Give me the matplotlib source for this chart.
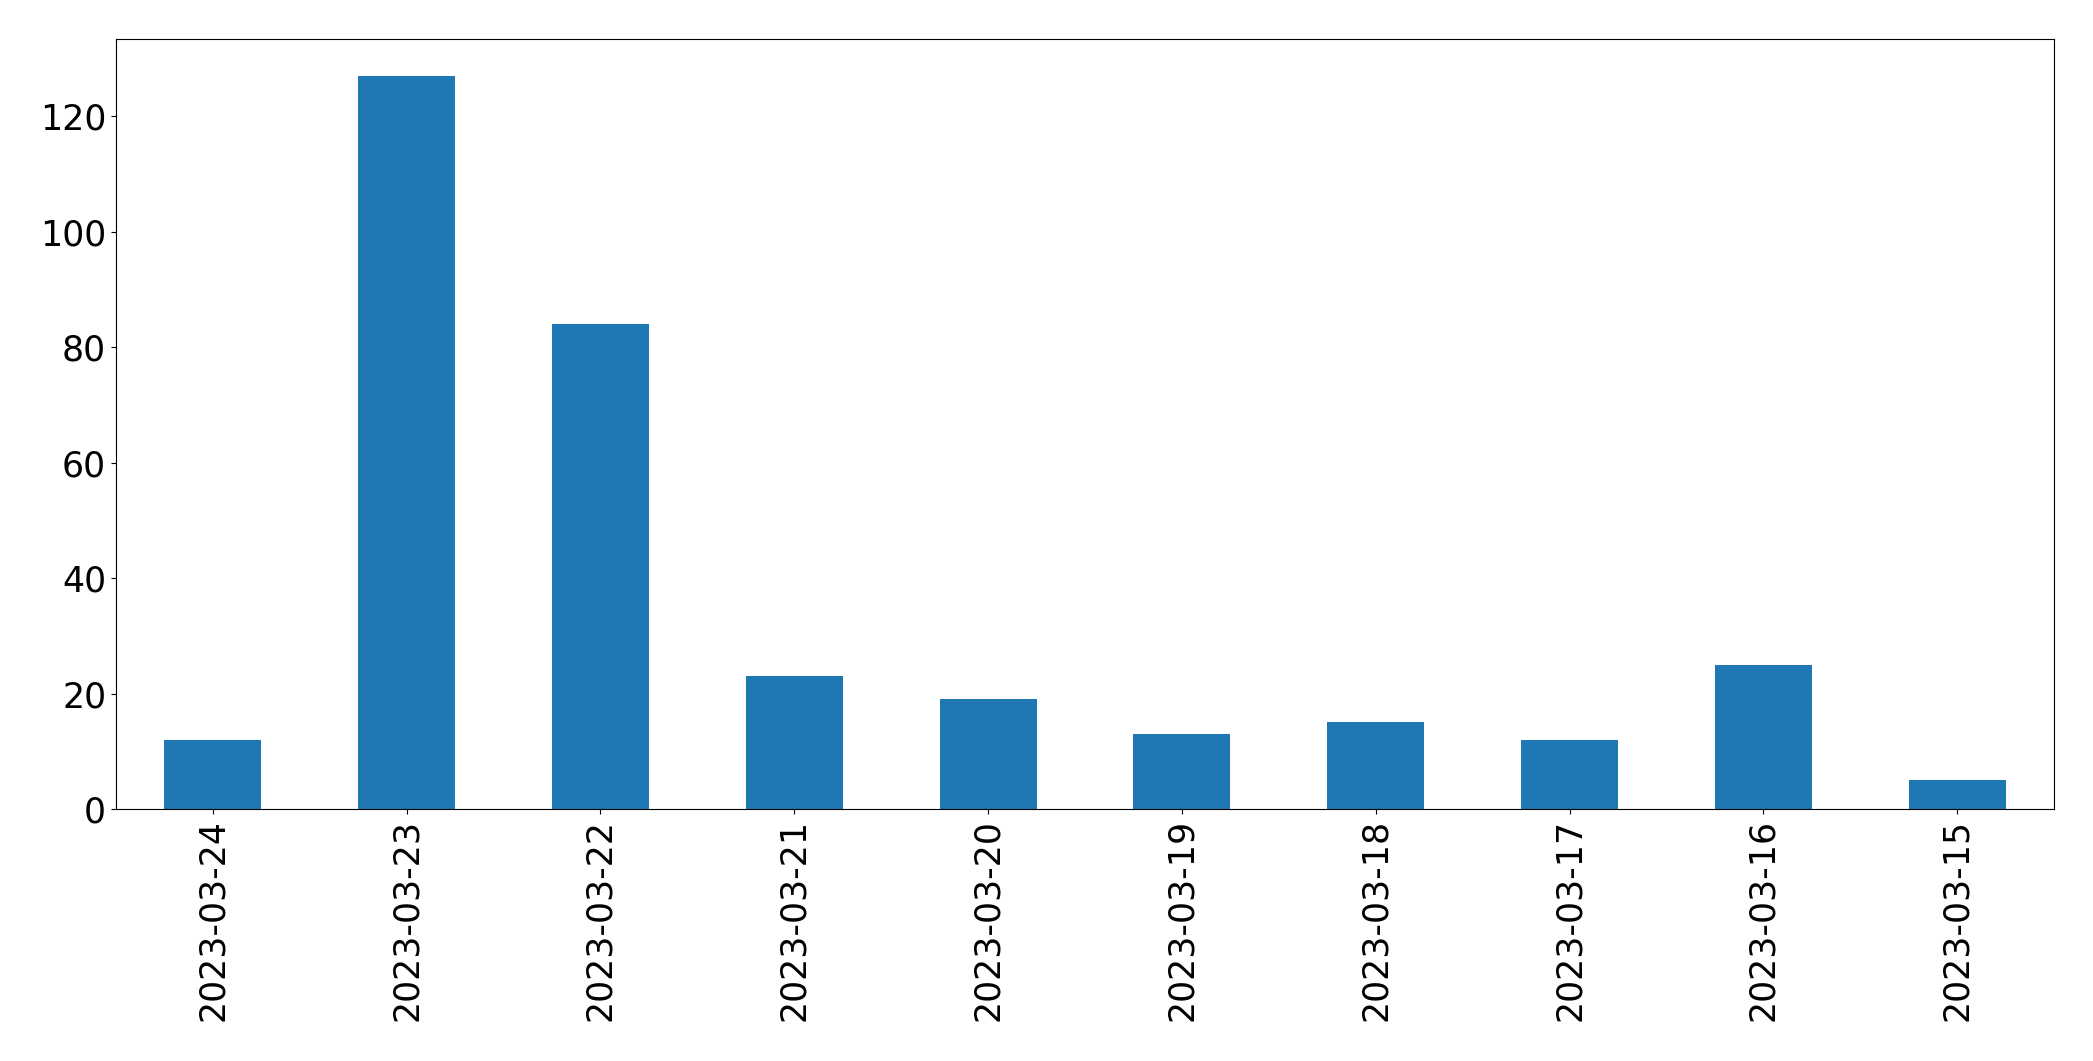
import matplotlib
matplotlib.use('Agg')
import matplotlib.pyplot as plt
import pandas as pd

# daily counts, newest first
dates = ['2023-03-24', '2023-03-23', '2023-03-22', '2023-03-21', '2023-03-20',
         '2023-03-19', '2023-03-18', '2023-03-17', '2023-03-16', '2023-03-15']
counts = [12, 127, 84, 23, 19, 13, 15, 12, 25, 5]

s = pd.Series(counts, index=dates)

fig = plt.figure(figsize=(20.93, 10.61), dpi=100)
ax = fig.add_subplot(111)
s.plot(kind='bar', ax=ax, fontsize=25)
fig.subplots_adjust(left=0.0554, right=0.9814, top=0.9632, bottom=0.2375)
fig.savefig('out.png', dpi=100)
